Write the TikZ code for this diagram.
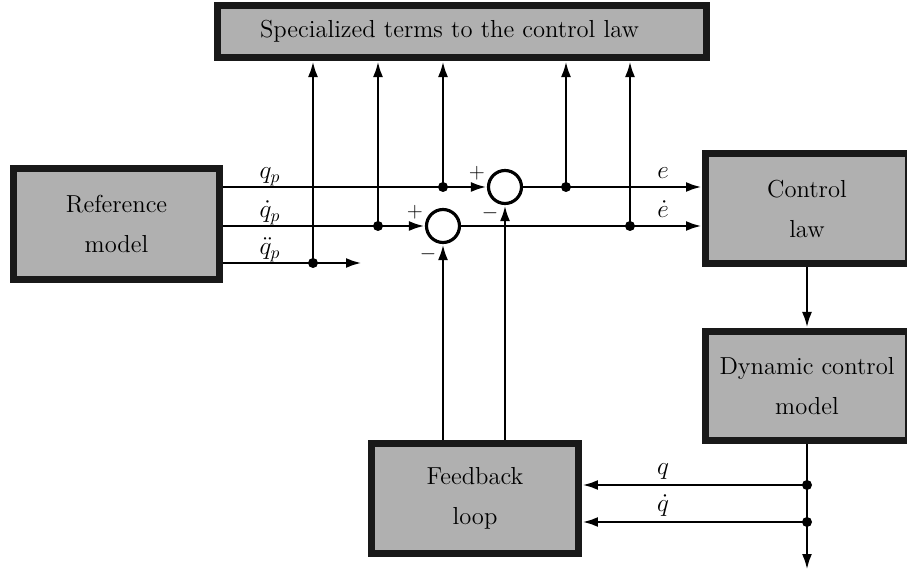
\documentclass[tikz,border=0pt]{standalone}
\usetikzlibrary{arrows.meta}

\definecolor{boxgray}{RGB}{176,176,176}
\definecolor{boxline}{RGB}{25,25,25}

\tikzset{
  blk/.style={draw=boxline, fill=boxgray, line width=4pt, inner sep=0pt, align=center},
  sumc/.style={draw, circle, line width=1.8pt, minimum size=0.66cm, inner sep=0pt},
  jdot/.style={circle, fill, inner sep=0pt, minimum size=0.2cm},
  sgn/.style={font=\fontsize{12}{14}\selectfont, inner sep=0pt},
  lbl/.style={anchor=base, inner sep=0pt}
}

\begin{document}
\begin{tikzpicture}[x=0.02cm, y=-0.02cm, font=\fontsize{14}{22.8}\selectfont,
  >={Latex[length=0.32cm,width=0.2cm]}]

\useasboundingbox (0,0) rectangle (907,574);

% blocks
\node[blk, minimum width=4.12cm, minimum height=2.22cm] (ref) at (116.5,224) {Reference\\model};
\node[blk, text width=8.08cm, inner xsep=0.85cm, minimum height=1.04cm, align=left] (spec) at (462,31.5) {Specialized terms to the control law};
\node[blk, minimum width=4.06cm, minimum height=2.2cm] (ctrl) at (807,208.5) {Control\\law};
\node[blk, minimum width=4.06cm, minimum height=2.18cm] (dyn) at (807,386) {Dynamic control\\model};
\node[blk, minimum width=4.14cm, minimum height=2.2cm] (fb) at (475,498.5) {Feedback\\loop};

% summing junctions
\node[sumc] (s1) at (505,187) {};
\node[sumc] (s2) at (443,226) {};

% branch points
\coordinate (j1) at (443,187);
\coordinate (j2) at (378,226);
\coordinate (j3) at (313,263);
\coordinate (j4) at (566,187);
\coordinate (j5) at (630,226);
\coordinate (j6) at (807,485);
\coordinate (j7) at (807,522);
\coordinate (qend) at (362,263);
\coordinate (oend) at (807,570);

\begin{scope}[line width=1.7pt, ->]
\draw (ref.east |- s1) -- (s1); %qp
\draw (ref.east |- s2) -- (s2); %qp dot
\draw (ref.east |- j3) -- (qend); %qp ddot
\draw (s1) -- (ctrl.west |- s1); %e
\draw (s2) -- (ctrl.west |- s2); %e dot
\draw (j3) -- (j3 |- spec.south);
\draw (j2) -- (j2 |- spec.south);
\draw (j1) -- (j1 |- spec.south);
\draw (j4) -- (j4 |- spec.south);
\draw (j5) -- (j5 |- spec.south);
\draw (ctrl.south) -- (dyn.north);
\draw (dyn.south) -- (oend);
\draw (j6) -- (fb.east |- j6); %q
\draw (j7) -- (fb.east |- j7); %q dot
\draw (fb.north -| s2) -- (s2);
\draw (fb.north -| s1) -- (s1);
\end{scope}

\foreach \j in {j1,j2,j3,j4,j5,j6,j7}
  \node[jdot] (d\j) at (\j) {};

% signal labels
\node[lbl] (lqp)  at (270,179) {$q_p$};
\node[lbl] (lqpd) at (270,218) {$\dot q_p$};
\node[lbl] (lqpp) at (270,255) {$\ddot q_p$};
\node[lbl] (le)   at (663,179) {$e$};
\node[lbl] (led)  at (663,218) {$\dot e$};
\node[lbl] (lq)   at (663,475) {$q$};
\node[lbl] (lqd)  at (663,512) {$\dot q$};

% signs
\node[sgn] (p1) at (477,173) {$+$};
\node[sgn] (m1) at (490,213) {$-$};
\node[sgn] (p2) at (415,212) {$+$};
\node[sgn] (m2) at (428,254) {$-$};

\end{tikzpicture}
\end{document}
